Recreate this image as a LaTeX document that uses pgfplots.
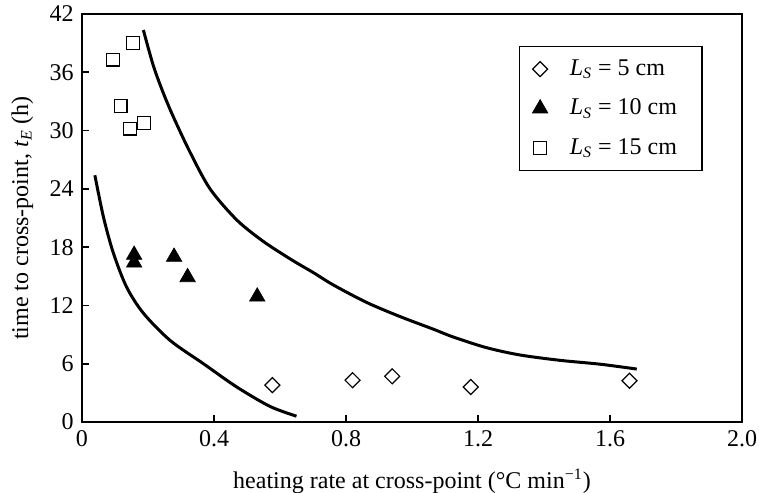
\documentclass[border=0pt]{standalone}
\usepackage{fontspec}
\setmainfont{Liberation Serif}
\usepackage{pgfplots}
\pgfplotsset{compat=1.18}
\begin{document}
\fontsize{12}{14}\selectfont
\begin{tikzpicture}
\begin{axis}[
  scale only axis, width=330pt, height=204pt,
  xmin=0, xmax=2, ymin=0, ymax=42,
  xtick={0,0.4,0.8,1.2,1.6,2.0},
  xticklabels={0,0.4,0.8,1.2,1.6,2.0},
  ytick={0,6,12,18,24,30,36,42},
  /pgf/number format/assume math mode=true,
  tick align=inside, xtick pos=bottom, ytick pos=left,
  major tick length=3.5pt,
  axis line style={line width=1.3pt},
  every tick/.style={black, line width=0.8pt},
  xlabel={heating rate at cross-point (°C min\textsuperscript{−1})},
  ylabel={time to cross-point, \textit{t}\textsubscript{\textit{E}} (h)},
  xlabel style={yshift=-3pt},
  legend style={at={(0.662,0.922)}, anchor=north west, draw=black, line width=0.6pt,
    row sep=6pt, inner xsep=6.5pt, inner ysep=4.5pt, font=\fontsize{12}{14}\selectfont},
  legend cell align=left,
]
\addplot[only marks, mark=square, mark size=2.65pt, mark options={rotate=45, line width=0.6pt, fill=white}]
  coordinates {(0.577,3.8) (0.820,4.3) (0.940,4.7) (1.178,3.6) (1.659,4.25)};
\addlegendentry{\hspace*{9pt}\textit{L}\textsubscript{\textit{S}} = 5 cm}
\addplot[only marks, mark=triangle*, mark size=4.4pt, mark options={black, line width=0.4pt}]
  coordinates {(0.158,17.2) (0.158,16.4) (0.279,17.0) (0.320,14.9) (0.531,12.9)};
\addlegendentry{\hspace*{9pt}\textit{L}\textsubscript{\textit{S}} = 10 cm\hspace*{4pt}}
\addplot[only marks, mark=square, mark size=3.2pt, mark options={line width=0.6pt, fill=white}]
  coordinates {(0.094,37.3) (0.155,39.0) (0.117,32.5) (0.145,30.2) (0.188,30.8)};
\addlegendentry{\hspace*{9pt}\textit{L}\textsubscript{\textit{S}} = 15 cm}
\addplot[black, line width=1.5pt, smooth, forget plot] coordinates {
  (0.186,40.35) (0.216,36.7) (0.246,33.9) (0.277,31.4) (0.327,27.8) (0.388,24.0)
  (0.469,20.8) (0.549,18.6) (0.635,16.7) (0.700,15.4) (0.762,14.1) (0.863,12.3)
  (0.964,10.85) (1.065,9.55) (1.125,8.75) (1.226,7.65) (1.327,6.9) (1.448,6.35)
  (1.570,5.95) (1.681,5.45)};
\addplot[black, line width=1.5pt, smooth, forget plot] coordinates {
  (0.039,25.4) (0.065,21.1) (0.095,17.4) (0.135,13.9) (0.186,11.2) (0.267,8.4)
  (0.368,6.0) (0.469,3.6) (0.570,1.6) (0.650,0.6)};
\end{axis}
\pgfresetboundingbox
\path[use as bounding box] (-41pt,-35pt) rectangle (338.5pt,211pt);
\end{tikzpicture}
\end{document}
